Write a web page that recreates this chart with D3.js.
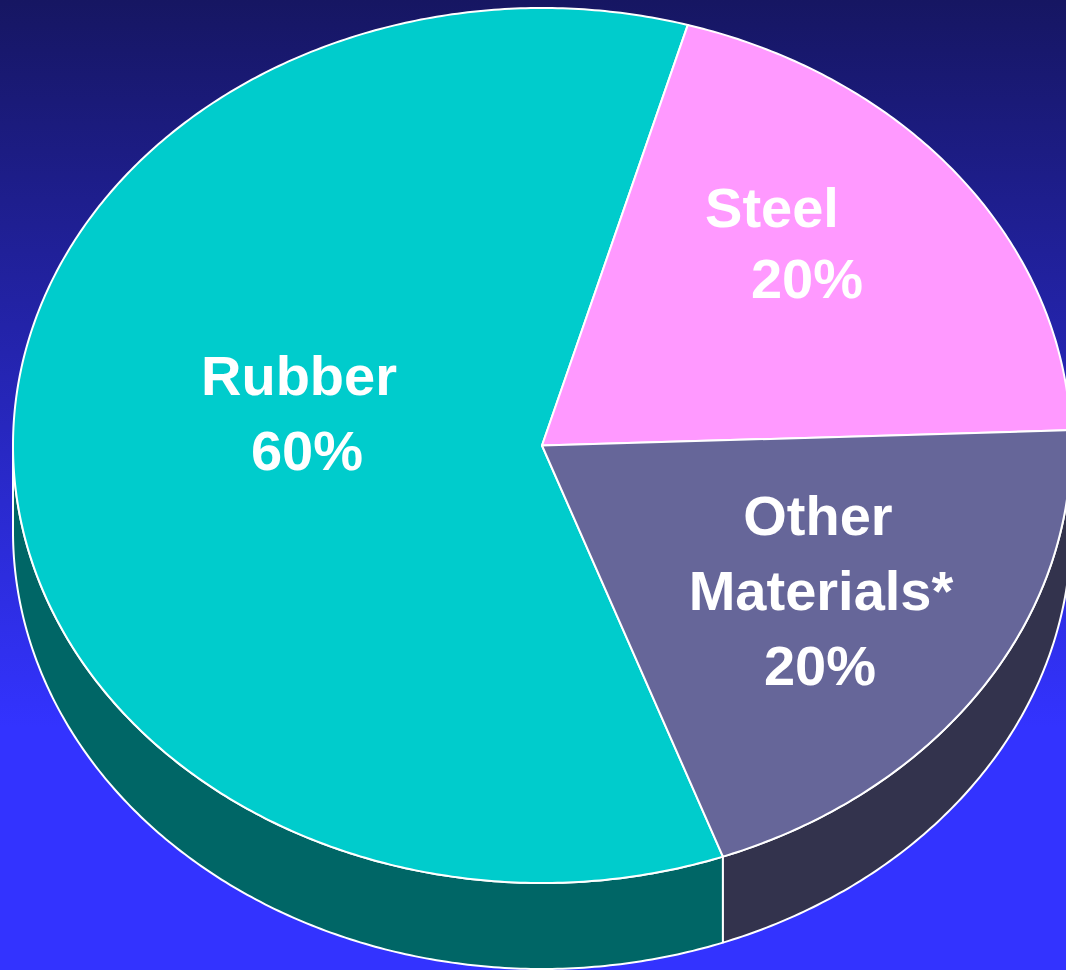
<!DOCTYPE html>
<html>
<head>
<meta charset="utf-8">
<script src="https://cdn.jsdelivr.net/npm/d3@7"></script>
<style>
  html, body { margin: 0; padding: 0; overflow: hidden; }
  #chart { width: 1066px; height: 970px; }
</style>
</head>
<body>
<div id="chart"></div>
<script>
// tyre composition - 3D pie

const categories = ["Rubber", "Steel", "Other Materials*"];
const shares = [60, 20, 20];
const labelLines = [["Rubber"], ["Steel"], ["Other", "Materials*"]];

const topColors = ["#00cccc", "#ff99ff", "#666699"];
const sideColors = ["#006666", "#993399", "#33334d"];

function drawPie() {
    const width = 1066, height = 970;
    const cx = 542, cy = 445.5, rx = 529, ry = 437.5, depth = 86;

    const svg = d3.select("#chart").append("svg")
        .attr("width", width).attr("height", height);

    const defs = svg.append("defs");
    const grad = defs.append("linearGradient").attr("id", "bg")
        .attr("x1", 0).attr("y1", 0).attr("x2", 0).attr("y2", 1);
    grad.append("stop").attr("offset", "0%").attr("stop-color", "#161662");
    grad.append("stop").attr("offset", "75%").attr("stop-color", "#3333ff");
    grad.append("stop").attr("offset", "100%").attr("stop-color", "#3333ff");
    svg.append("rect").attr("width", width).attr("height", height).attr("fill", "url(#bg)");

    const start = 160 * Math.PI / 180;
    const pie = d3.pie().sort(null).startAngle(start).endAngle(start + 2 * Math.PI);
    const arcs = pie(shares).map((d, i) => ({ ...d, i }));

    // angle measured clockwise from 12 o'clock
    const px = a => cx + rx * Math.sin(a);
    const py = (a, dy) => cy - ry * Math.cos(a) + (dy || 0);

    function arcPoints(a0, a1, dy) {
        const n = Math.max(2, Math.ceil(Math.abs(a1 - a0) / 0.01));
        return d3.range(n + 1).map(k => {
            const a = a0 + (a1 - a0) * k / n;
            return [px(a), py(a, dy)];
        });
    }

    const line = d3.line();

    // outer walls on the front half (pi/2 .. 3pi/2)
    const walls = [];
    arcs.forEach(d => {
        [0, 2 * Math.PI].forEach(off => {
            const s = Math.max(d.startAngle, Math.PI / 2 + off);
            const e = Math.min(d.endAngle, 3 * Math.PI / 2 + off);
            if (e > s) walls.push({ i: d.i, s, e });
        });
    });

    svg.selectAll(".wall").data(walls).enter().append("path")
        .attr("class", "wall")
        .attr("d", w => line(arcPoints(w.s, w.e, 0).concat(arcPoints(w.e, w.s, depth))) + "Z")
        .attr("fill", w => sideColors[w.i])
        .attr("stroke", "#ffffff").attr("stroke-width", 2).attr("stroke-linejoin", "round");

    svg.selectAll(".slice").data(arcs).enter().append("path")
        .attr("class", "slice")
        .attr("d", d => line([[cx, cy]].concat(arcPoints(d.startAngle, d.endAngle, 0))) + "Z")
        .attr("fill", d => topColors[d.i])
        .attr("stroke", "#ffffff").attr("stroke-width", 2).attr("stroke-linejoin", "round");

    // label anchors: x of each line, baseline of first line
    const labelPos = [
        { xs: [299, 307], y: 395, step: 75 },
        { xs: [772, 807], y: 227, step: 71 },
        { xs: [818, 821, 820], y: 535, step: 75 }
    ];

    const labels = svg.selectAll(".label").data(arcs).enter().append("text")
        .attr("class", "label")
        .attr("font-family", "'Liberation Sans', Arial, sans-serif")
        .attr("font-weight", "bold")
        .attr("font-size", 56)
        .attr("fill", "#ffffff")
        .attr("text-anchor", "middle");

    labels.each(function(d) {
        const lines = labelLines[d.i].concat([d.value + "%"]);
        const p = labelPos[d.i];
        d3.select(this).selectAll("tspan").data(lines).enter().append("tspan")
            .attr("x", (t, k) => p.xs[k])
            .attr("y", (t, k) => p.y + k * p.step)
            .text(t => t);
    });
}

drawPie();
</script>
</body>
</html>
